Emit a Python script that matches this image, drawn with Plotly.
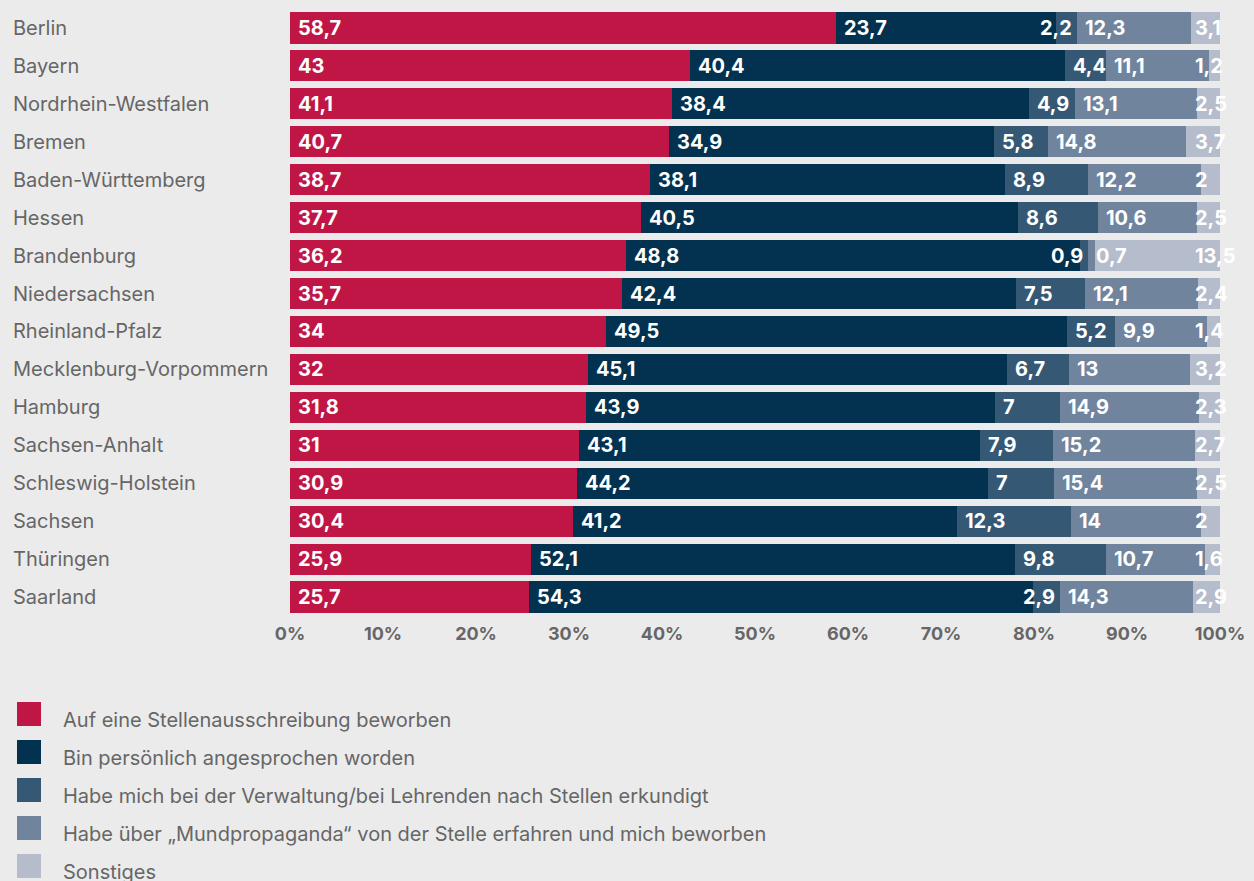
import plotly.graph_objects as go

# ---------------- data ----------------
states = ["Berlin", "Bayern", "Nordrhein-Westfalen", "Bremen", "Baden-Württemberg", "Hessen",
          "Brandenburg", "Niedersachsen", "Rheinland-Pfalz", "Mecklenburg-Vorpommern", "Hamburg",
          "Sachsen-Anhalt", "Schleswig-Holstein", "Sachsen", "Thüringen", "Saarland"]

series_names = ["Auf eine Stellenausschreibung beworben",
                "Bin persönlich angesprochen worden",
                "Habe mich bei der Verwaltung/bei Lehrenden nach Stellen erkundigt",
                "Habe über „Mundpropaganda“ von der Stelle erfahren und mich beworben",
                "Sonstiges"]

applied       = [58.7, 43, 41.1, 40.7, 38.7, 37.7, 36.2, 35.7, 34, 32, 31.8, 31, 30.9, 30.4, 25.9, 25.7]
approached    = [23.7, 40.4, 38.4, 34.9, 38.1, 40.5, 48.8, 42.4, 49.5, 45.1, 43.9, 43.1, 44.2, 41.2, 52.1, 54.3]
inquired      = [2.2, 4.4, 4.9, 5.8, 8.9, 8.6, 0.9, 7.5, 5.2, 6.7, 7, 7.9, 7, 12.3, 9.8, 2.9]
word_of_mouth = [12.3, 11.1, 13.1, 14.8, 12.2, 10.6, 0.7, 12.1, 9.9, 13, 14.9, 15.2, 15.4, 14, 10.7, 14.3]
other         = [3.1, 1.2, 2.5, 3.7, 2, 2.5, 13.5, 2.4, 1.4, 3.2, 2.3, 2.7, 2.5, 2, 1.6, 2.9]

x_ticks = [0, 10, 20, 30, 40, 50, 60, 70, 80, 90, 100]
x_tick_labels = [f"{v}%" for v in x_ticks]

series = [applied, approached, inquired, word_of_mouth, other]

# ---------------- style ----------------
colors = ["#C01646", "#02324F", "#355874", "#70849E", "#B5BCCB"]
BG = "#EBEBEB"
GREY = "#666666"
FONT = "Inter"
W, H = 1254, 881
ML, MR, MT, MB = 290, 34, 9, 265
PW, PH = W - ML - MR, H - MT - MB
LAST_LABEL_POS = 97.1   # where the "Sonstiges" labels start (axis units)


def px_x(px):
    return (px - ML) / PW


def px_y(py):
    return (H - MB - py) / PH


def fmt(v):
    return ("%g" % v).replace(".", ",")


fig = go.Figure()
for name, vals, col in zip(series_names, series, colors):
    fig.add_trace(go.Bar(
        y=states, x=vals, name=name, orientation="h",
        marker=dict(color=col, line=dict(width=0)),
        hoverinfo="x+y", showlegend=False,
    ))

annotations = []
# value labels on segments
px_per_unit = PW / 100.0
for r, st in enumerate(states):
    total = sum(s[r] for s in series)
    start = 0.0
    prev_right_px = -1e9
    for k, s in enumerate(series):
        v = s[r]
        pct = v / total * 100.0
        end = min(start + pct, 100.0)
        txt = fmt(v)
        tw = sum(5 if c == "," else 12 for c in txt)
        seg_px = pct * px_per_unit
        if k == len(series) - 1:
            x, anchor, shift = LAST_LABEL_POS, "left", 0
            right_px = LAST_LABEL_POS * px_per_unit + tw
        elif k > 0 and seg_px < tw + 8 and (end * px_per_unit - 3 - tw) > prev_right_px:
            x, anchor, shift = end, "right", -3
            right_px = end * px_per_unit - 3
        else:
            x, anchor, shift = start, "left", 6
            right_px = start * px_per_unit + 6 + tw
        prev_right_px = right_px
        annotations.append(dict(
            x=x, y=st, xref="x", yref="y", text=txt, showarrow=False,
            xanchor=anchor, yanchor="middle", xshift=shift,
            font=dict(family=FONT, size=20, color="white", weight="bold"),
        ))
        start = end

# category labels (left aligned)
for st in states:
    annotations.append(dict(
        x=px_x(11), y=st, xref="paper", yref="y", text=st, showarrow=False,
        xanchor="left", yanchor="middle",
        font=dict(family=FONT, size=20, color=GREY),
    ))

# custom legend
shapes = []
for i, (name, col) in enumerate(zip(series_names, colors)):
    top = 702 + 38 * i
    shapes.append(dict(type="rect", xref="paper", yref="paper",
                       x0=px_x(17), x1=px_x(41), y0=px_y(top + 24), y1=px_y(top),
                       fillcolor=col, line=dict(width=0)))
    annotations.append(dict(
        x=px_x(61), y=px_y(top + 18), xref="paper", yref="paper", text=name,
        showarrow=False, xanchor="left", yanchor="middle",
        font=dict(family=FONT, size=20, color=GREY),
    ))

fig.update_layout(
    width=W, height=H,
    barmode="stack", barnorm="percent", bargap=0.18,
    paper_bgcolor=BG, plot_bgcolor=BG,
    margin=dict(l=ML, r=MR, t=MT, b=MB, autoexpand=False),
    xaxis=dict(range=[0, 100], tickmode="array", tickvals=x_ticks, ticktext=x_tick_labels,
               showgrid=False, zeroline=False, showline=False,
               tickfont=dict(family=FONT, size=18, color=GREY, weight="bold"),
               ticks="outside", ticklen=1, tickcolor="rgba(0,0,0,0)"),
    yaxis=dict(autorange="reversed", showticklabels=False, showgrid=False,
               zeroline=False, showline=False),
    annotations=annotations, shapes=shapes,
    showlegend=False,
)

fig.write_html("out.html", config={"displayModeBar": False},
               post_script="document.body.style.margin='0';document.body.style.background='#EBEBEB';")
